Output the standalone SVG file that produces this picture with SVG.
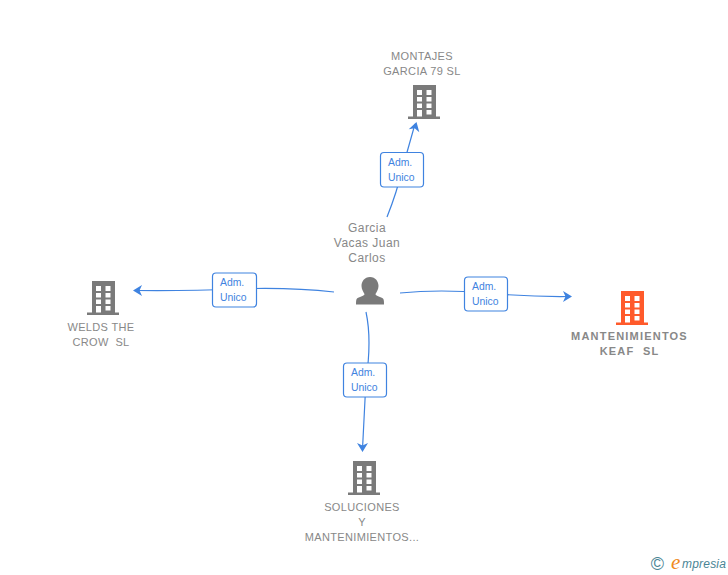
<svg xmlns="http://www.w3.org/2000/svg" width="728" height="575" viewBox="0 0 728 575">
<style>
text{font-family:"Liberation Sans",Arial,sans-serif}
.n{font-size:11px;fill:#888;text-anchor:middle;letter-spacing:.35px}
.b{font-weight:700;letter-spacing:1.2px}
.p{font-size:12px;letter-spacing:.45px}
.c{fill:none;stroke:#3f83e0;stroke-width:1.2}
.h{fill:#3f83e0}
.l{fill:#fff;stroke:#3f83e0;stroke-width:1.2}
.t{font-size:10.4px;fill:#3f83e0}
.g{fill:#7a7a7a}
.o{fill:#ff5a2b}
</style>
<defs>
<path id="bld" fill-rule="evenodd" d="M5 0H28V31.500H32V34H0V31.500H5ZM9 5V10H14V5ZM18.500 5V10H23.500V5ZM9 12V16.500H14V12ZM18.500 12V16.500H23.500V12ZM9 18.500V23H14V18.500ZM18.500 18.500V23H23.500V18.500ZM9 25V31.500H14V25ZM18.500 25V29.500H23.500V25Z"/>
<g id="arr"><path d="M0 0L-9 -5.500L-6.500 0L-9 5.500Z"/></g>
</defs>
<g id="connectors">
<path class="c" d="M387 217Q397 192 402 170L415 124"/>
<use href="#arr" class="h" transform="translate(416.500 122) rotate(-74)"/>
<path class="c" d="M334 292Q290 287 234 289Q190 291 136 290.500"/>
<use href="#arr" class="h" transform="translate(133 290.500) rotate(180)"/>
<path class="c" d="M400 293Q440 289 486 293Q530 297 569 296.500"/>
<use href="#arr" class="h" transform="translate(572 296.500)"/>
<path class="c" d="M366 312Q372 340 366 380L362.500 449"/>
<use href="#arr" class="h" transform="translate(362.500 452) rotate(90)"/>
</g>
<g id="label-top"><rect class="l" x="380.500" y="152.500" width="43" height="34.500" rx="3.500"/><text class="t" x="388" y="166">Adm.</text><text class="t" x="388" y="181">Unico</text></g>
<g id="label-left"><rect class="l" x="212.500" y="273" width="44" height="34" rx="3.500"/><text class="t" x="220" y="286">Adm.</text><text class="t" x="220" y="301">Unico</text></g>
<g id="label-right"><rect class="l" x="464.500" y="277" width="43" height="34" rx="3.500"/><text class="t" x="472" y="290">Adm.</text><text class="t" x="472" y="305">Unico</text></g>
<g id="label-bottom"><rect class="l" x="343.500" y="363" width="43" height="34" rx="3.500"/><text class="t" x="351" y="376">Adm.</text><text class="t" x="351" y="391">Unico</text></g>
<g id="node-montajes"><text class="n" x="422" y="60">MONTAJES</text><text class="n" x="422" y="75">GARCIA 79 SL</text><use href="#bld" class="g" x="408" y="85"/></g>
<g id="node-person"><text class="n p" x="367" y="232">Garcia</text><text class="n p" x="367" y="247">Vacas Juan</text><text class="n p" x="367" y="262">Carlos</text>
<path class="g" d="M370 277C375.500 277 378.500 281.500 378.500 286C378.500 289.500 376.500 292 375.500 294C375.500 296 380 296.500 383 298.500C384 299.500 384 302 384 304.500H356C356 302 356 299.500 357 298.500C360 296.500 364.500 296 364.500 294C363.500 292 361.500 289.500 361.500 286C361.500 281.500 364.500 277 370 277Z"/></g>
<g id="node-keaf"><use href="#bld" class="o" x="616" y="291"/><text class="n b" x="629.500" y="340">MANTENIMIENTOS</text><text class="n b" x="629.500" y="355" xml:space="preserve">KEAF  SL</text></g>
<g id="node-welds"><use href="#bld" class="g" x="87" y="281"/><text class="n" x="101" y="331">WELDS THE</text><text class="n" x="101" y="346" xml:space="preserve">CROW  SL</text></g>
<g id="node-soluciones"><use href="#bld" class="g" x="348" y="461"/><text class="n" x="362" y="511">SOLUCIONES</text><text class="n" x="362" y="526">Y</text><text class="n" x="362" y="541">MANTENIMIENTOS...</text></g>
<g id="logo"><text x="657.500" y="570" font-size="18" fill="#4b8595" text-anchor="middle">©</text><text x="671" y="569" font-size="21" font-style="italic" fill="#f08a1d" style="font-family:'Liberation Serif',serif">e</text><text x="682" y="568" font-size="12" font-style="italic" fill="#4b8595" letter-spacing=".2">mpresia</text></g>
</svg>
